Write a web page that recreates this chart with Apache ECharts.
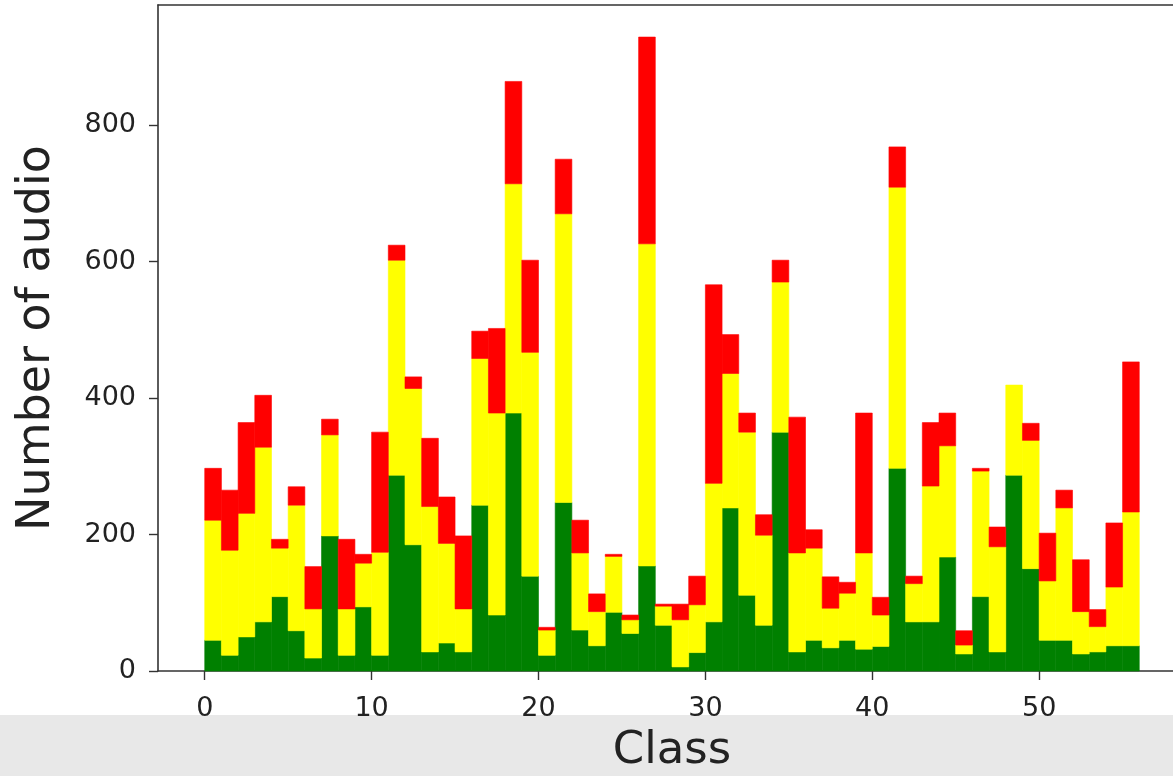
<!DOCTYPE html>
<html>
<head>
<meta charset="utf-8">
<script src="https://cdn.jsdelivr.net/npm/echarts@6/dist/echarts.min.js"></script>
<style>
html,body{margin:0;padding:0;background:#fff;}
#chart{width:1173px;height:776px;}
</style>
</head>
<body>
<div id="chart"></div>
<script>
const classes = [0,1,2,3,4,5,6,7,8,9,10,11,12,13,14,15,16,17,18,19,20,21,22,23,24,25,26,27,28,29,30,31,32,33,34,35,36,37,38,39,40,41,42,43,44,45,46,47,48,49,50,51,52,53,54,55];
const greenCounts = [45,23,50,72,109,59,19,198,23,94, 23,287,185,28,41,28,243,82,378,139, 23,247,60,37,86,55,154,67,6,27, 72,239,111,67,350,28,45,34,45,32, 36,297,72,72,167,25,109,28,287,150, 45,45,25,28,37,37];
const yellowCounts = [176,154,181,256,71,184,72,148,68,64, 151,315,229,213,146,63,215,296,336,328, 37,423,113,50,82,20,472,28,69,70, 203,197,239,132,220,145,135,58,69,141, 46,412,56,199,163,13,184,154,132,188, 87,194,62,37,86,196];
const redCounts = [76,88,133,76,13,27,62,23,102,13, 176,22,17,100,68,107,40,124,150,135, 4,80,48,26,3,7,303,3,23,42, 291,57,28,30,32,199,27,46,16,205, 26,59,11,93,48,21,4,29,0,25, 70,26,76,25,94,220];
const xTicks = [0,10,20,30,40,50];
const yTicks = [0,200,400,600,800];

const seriesDefs = [
  {name:'green', counts: greenCounts, color:'#008000'},
  {name:'yellow', counts: yellowCounts, color:'#ffff00'},
  {name:'red', counts: redCounts, color:'#ff0000'}
];

const base = classes.map(() => 0);
const series = seriesDefs.map(def => {
  const data = classes.map((c, i) => {
    const lo = base[i];
    const hi = lo + def.counts[i];
    base[i] = hi;
    return [c, lo, hi];
  });
  return {
    type: 'custom',
    name: def.name,
    data: data,
    encode: {x: 0, y: [1, 2]},
    renderItem: function (params, api) {
      const c = api.value(0), lo = api.value(1), hi = api.value(2);
      if (hi <= lo) return null;
      const p0 = api.coord([c, lo]);
      const p1 = api.coord([c + 1, hi]);
      return {
        type: 'rect',
        shape: {x: p0[0], y: p1[1], width: p1[0] - p0[0], height: p0[1] - p1[1]},
        style: {fill: def.color, stroke: def.color, lineWidth: 0.6}
      };
    },
    z: 3
  };
});

const font = 'DejaVu Sans';
const chart = echarts.init(document.getElementById('chart'));
chart.setOption({
  animation: false,
  backgroundColor: '#ffffff',
  graphic: [{
    type: 'rect', left: 0, top: 715, z: 0,
    shape: {width: 1173, height: 61},
    style: {fill: '#e8e8e8'}
  }],
  grid: {left: 158, top: 5, right: -13, bottom: 105, containLabel: false, outerBoundsMode: 'none', show: false},
  xAxis: [{
    type: 'value', min: -2.8, max: 58.8, position: 'bottom',
    name: 'Class', nameLocation: 'middle', nameGap: 58,
    nameTextStyle: {fontFamily: font, fontSize: 45, color: '#222'},
    axisLine: {show: true, onZero: false, lineStyle: {color: '#333', width: 1.6}},
    axisTick: {show: true, length: 9, customValues: xTicks, lineStyle: {color: '#333', width: 1.4}},
    axisLabel: {customValues: xTicks, margin: 24, fontFamily: font, fontSize: 27, color: '#222'},
    splitLine: {show: false}
  }, {
    type: 'value', min: -2.8, max: 58.8, position: 'top',
    axisLine: {show: true, onZero: false, lineStyle: {color: '#333', width: 1.6}},
    axisTick: {show: false}, axisLabel: {show: false}, splitLine: {show: false}
  }],
  yAxis: [{
    type: 'value', min: 0, max: 976, position: 'left',
    name: 'Number of audio', nameLocation: 'middle', nameGap: 98, nameRotate: 90,
    nameTextStyle: {fontFamily: font, fontSize: 46, color: '#222'},
    axisLine: {show: true, onZero: false, lineStyle: {color: '#333', width: 1.6}},
    axisTick: {show: true, length: 9, customValues: yTicks, lineStyle: {color: '#333', width: 1.4}},
    axisLabel: {customValues: yTicks, margin: 22, fontFamily: font, fontSize: 27, color: '#222'},
    splitLine: {show: false}
  }],
  series: series
});
</script>
</body>
</html>
